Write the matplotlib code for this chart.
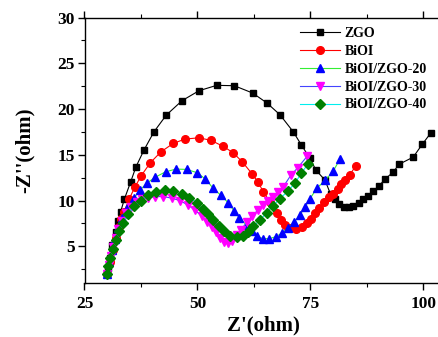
import matplotlib
matplotlib.use("Agg")
import matplotlib.pyplot as plt
from matplotlib.ticker import MultipleLocator

plt.rcParams["font.family"] = ["Liberation Serif", "DejaVu Serif"]
plt.rcParams["font.weight"] = "bold"

# --- Nyquist data, Z' / -Z'' in ohm
zgo_x = [29.98, 30.2, 30.64, 31.15, 31.9, 32.48, 33.0, 33.8, 35.22, 36.39, 38.16, 40.38,
         43.1, 46.57, 50.33, 54.25, 58.14, 62.21, 65.38, 68.25, 71.19, 72.96, 74.89, 76.22,
         78.21, 79.47, 80.42, 81.37, 82.41, 83.58, 84.47, 85.73, 86.68, 87.79, 88.89, 90.15,
         91.48, 93.32, 94.58, 97.74, 99.73, 101.66]
zgo_y = [1.98, 2.6, 3.72, 5.14, 6.59, 7.79, 8.78, 10.13, 12.05, 13.69, 15.52, 17.52,
         19.34, 20.91, 22.0, 22.59, 22.55, 21.75, 20.66, 19.38, 17.52, 16.1, 14.61, 13.33,
         12.24, 10.68, 10.13, 9.58, 9.32, 9.26, 9.43, 9.69, 10.13, 10.49, 11.04, 11.58,
         12.35, 13.11, 13.96, 14.75, 16.14, 17.41]

bioi_x = [29.98, 30.64, 31.3, 31.97, 32.63, 33.08, 33.74, 34.91, 36.11, 37.57, 39.56, 41.92,
          44.65, 47.23, 50.33, 52.99, 55.71, 57.92, 59.96, 62.12, 63.45, 64.56, 66.04, 67.52,
          68.47, 69.36, 70.46, 71.79, 73.12, 74.23, 75.2, 76.0, 77.0, 78.0, 79.1, 80.1,
          81.0, 81.75, 82.74, 83.74, 85.0]
bioi_y = [1.98, 3.28, 4.59, 5.9, 7.1, 7.98, 8.74, 10.2, 11.44, 12.73, 14.13, 15.33,
          16.25, 16.72, 16.86, 16.58, 15.92, 15.22, 14.21, 12.9, 11.99, 10.96, 9.87, 8.6,
          7.87, 7.38, 6.99, 6.89, 7.1, 7.51, 7.98, 8.63, 9.18, 9.84, 10.38, 10.71,
          11.26, 11.8, 12.24, 12.84, 13.77]

z20_x = [29.98, 30.53, 31.08, 31.75, 32.41, 33.3, 34.4, 35.95, 37.28, 38.83, 40.6, 42.96,
         45.24, 47.61, 49.96, 51.77, 53.5, 55.13, 56.81, 58.08, 59.29, 60.88, 62.0, 63.2,
         64.5, 65.9, 67.3, 68.7, 70.0, 71.4, 72.7, 73.8, 74.9, 76.37, 78.32, 80.04, 81.53]
z20_y = [1.98, 3.28, 4.59, 5.79, 7.0, 8.09, 9.18, 10.27, 11.15, 11.91, 12.54, 13.15,
         13.44, 13.41, 13.04, 12.35, 11.33, 10.6, 9.76, 8.89, 8.09, 7.32, 6.7, 6.1,
         5.85, 5.85, 6.05, 6.45, 7.0, 7.65, 8.45, 9.3, 10.2, 11.33, 12.24, 13.22, 14.53]

z30_x = [29.98, 30.42, 30.86, 31.3, 31.86, 32.52, 33.3, 34.29, 35.4, 36.62, 37.72, 39.12,
         40.6, 42.43, 44.29, 46.13, 47.9, 49.45, 50.93, 52.1, 53.2, 54.2, 55.09, 55.86,
         56.75, 57.63, 58.67, 59.62, 60.88, 62.06, 63.38, 64.56, 65.7, 66.77, 67.9, 68.98,
         70.69, 72.23, 74.29]
z30_y = [1.98, 2.95, 3.93, 4.92, 5.9, 6.89, 7.76, 8.63, 9.29, 9.84, 10.16, 10.33,
         10.44, 10.44, 10.27, 10.0, 9.51, 8.96, 8.31, 7.7, 7.1, 6.56, 5.96, 5.52,
         5.36, 5.57, 6.23, 6.78, 7.65, 8.31, 8.96, 9.51, 9.95, 10.42, 10.95, 11.51,
         12.79, 13.61, 14.86]

z40_x = [29.98, 30.31, 30.75, 31.3, 31.97, 32.74, 33.63, 34.73, 36.06, 37.5, 39.12, 40.93,
         42.81, 44.65, 46.5, 48.23, 49.82, 51.28, 52.43, 53.54, 54.76, 55.97, 57.3, 58.74,
         60.07, 61.28, 62.39, 63.83, 65.31, 66.77, 68.25, 70.02, 71.57, 73.0, 74.51]
z40_y = [1.98, 2.84, 3.72, 4.7, 5.68, 6.67, 7.6, 8.58, 9.4, 10.0, 10.6, 10.98,
         11.15, 11.04, 10.71, 10.33, 9.78, 9.13, 8.52, 7.92, 7.27, 6.67, 6.17, 6.01,
         6.12, 6.56, 7.21, 7.87, 8.69, 9.45, 10.22, 11.04, 11.91, 13.0, 14.04]

series = [
    ("ZGO", zgo_x, zgo_y, "s", "black", "black", 5),
    ("BiOI", bioi_x, bioi_y, "o", "red", "red", 5.5),
    ("BiOI/ZGO-20", z20_x, z20_y, "^", "#0000ff", "#33ee33", 6),
    ("BiOI/ZGO-30", z30_x, z30_y, "v", "#ff00ff", "#4444ff", 6),
    ("BiOI/ZGO-40", z40_x, z40_y, "D", "#008000", "#00eeee", 5),
]

fig = plt.figure(figsize=(4.38, 3.37), dpi=100)
ax = fig.add_axes([84.5 / 438, 54 / 337, 357 / 438, 265.5 / 337])

for label, xs, ys, mk, mc, lc, ms in series:
    ax.plot(xs, ys, color=lc, lw=0.8, marker=mk, ms=ms,
            markerfacecolor=mc, markeredgecolor=mc, label=label)

ax.set_xlim(25, 104)
ax.set_ylim(1, 30)
ax.xaxis.set_major_locator(MultipleLocator(25))
ax.xaxis.set_minor_locator(MultipleLocator(12.5))
ax.yaxis.set_major_locator(MultipleLocator(5))
ax.yaxis.set_minor_locator(MultipleLocator(2.5))
ax.tick_params(which="major", direction="out", length=5, width=1, labelsize=12.5)
ax.tick_params(axis="x", which="major", pad=4)
ax.tick_params(axis="y", which="major", pad=2)
ax.tick_params(which="minor", direction="out", length=3, width=0.8)
ax.tick_params(which="both", top=True)
for lab in ax.get_xticklabels() + ax.get_yticklabels():
    lab.set_fontweight("bold")
for sp in ax.spines.values():
    sp.set_linewidth(1.0)

ax.set_xlabel("Z'(ohm)", fontsize=15, fontweight="bold", labelpad=3)
ax.set_ylabel("-Z''(ohm)", fontsize=15, fontweight="bold", labelpad=16)

ax.legend(loc="upper left", bbox_to_anchor=(300 / 438, 1 - 27 / 337),
          bbox_transform=fig.transFigure, frameon=False, borderpad=0,
          prop={"weight": "bold", "size": 10}, handlelength=2.9,
          handletextpad=0.3, labelspacing=0.35, borderaxespad=0)

fig.savefig("out.png", dpi=100)
